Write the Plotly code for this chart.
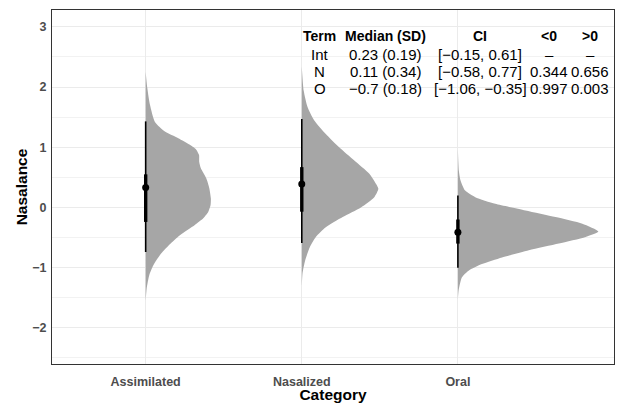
import plotly.graph_objects as go

# ---------------- data ----------------
categories = ["Assimilated", "Nasalized", "Oral"]

# density profiles (y value, relative density; Oral peak = 1)
asm_y = [2.25, 1.98, 1.70, 1.42, 1.26, 1.15, 1.04, 0.96, 0.87, 0.76, 0.65, 0.48, 0.32, 0.15, 0.04, -0.07, -0.18, -0.29, -0.46, -0.62, -0.79, -0.96, -1.12, -1.35, -1.57]
asm_d = [0.0, 0.012, 0.031, 0.066, 0.137, 0.232, 0.315, 0.360, 0.380, 0.381, 0.393, 0.432, 0.453, 0.464, 0.462, 0.446, 0.410, 0.350, 0.244, 0.168, 0.102, 0.055, 0.026, 0.007, 0.0]

nas_y = [2.35, 1.94, 1.67, 1.45, 1.22, 1.00, 0.78, 0.56, 0.39, 0.31, 0.17, 0.00, -0.16, -0.33, -0.49, -0.66, -0.88, -1.10, -1.32]
nas_d = [0.0, 0.014, 0.041, 0.088, 0.171, 0.266, 0.374, 0.481, 0.529, 0.545, 0.516, 0.421, 0.291, 0.171, 0.100, 0.057, 0.024, 0.005, 0.0]

ora_y = [0.98, 0.61, 0.45, 0.28, 0.17, 0.06, -0.05, -0.16, -0.27, -0.40, -0.49, -0.60, -0.71, -0.83, -0.94, -1.05, -1.16, -1.38, -1.54]
ora_d = [0.0, 0.007, 0.019, 0.052, 0.124, 0.266, 0.481, 0.695, 0.886, 1.0, 0.909, 0.719, 0.505, 0.314, 0.171, 0.076, 0.029, 0.005, 0.0]

# point intervals: median, 66% and 95% intervals
medians = [0.33, 0.39, -0.41]
lo66 = [-0.24, -0.07, -0.60]
hi66 = [0.55, 0.67, -0.20]
lo95 = [-0.74, -0.59, -1.00]
hi95 = [1.43, 1.47, 0.20]

# summary table
tbl_header = ["Term", "Median (SD)", "CI", "<0", ">0"]
tbl_term = ["Int", "N", "O"]
tbl_median = ["0.23 (0.19)", "0.11 (0.34)", "\u22120.7 (0.18)"]
tbl_ci = ["[\u22120.15, 0.61]", "[\u22120.58, 0.77]", "[\u22121.06, \u22120.35]"]
tbl_lt0 = ["\u2013", "0.344", "0.997"]
tbl_gt0 = ["\u2013", "0.656", "0.003"]

y_ticks = [-2, -1, 0, 1, 2, 3]

# ---------------- figure ----------------
SCALE = 0.9
FONT = "Liberation Sans, Arial, sans-serif"
fig = go.Figure()

profiles = [(asm_y, asm_d), (nas_y, nas_d), (ora_y, ora_d)]
for i, (ys, ds) in enumerate(profiles):
    pos = i + 1
    xs = [pos + SCALE * d for d in ds]
    fig.add_trace(go.Scatter(
        x=[pos] + xs + [pos], y=[ys[0]] + ys + [ys[-1]],
        mode="lines", fill="toself", fillcolor="#A6A6A6",
        line=dict(color="rgba(0,0,0,0)", width=0, shape="spline", smoothing=0.6),
        hoverinfo="skip", showlegend=False))

for i in range(3):
    pos = i + 1
    fig.add_trace(go.Scatter(x=[pos, pos], y=[lo95[i], hi95[i]], mode="lines",
                             line=dict(color="black", width=1.6), showlegend=False))
    fig.add_trace(go.Scatter(x=[pos, pos], y=[lo66[i], hi66[i]], mode="lines",
                             line=dict(color="black", width=3.4), showlegend=False))
    fig.add_trace(go.Scatter(x=[pos], y=[medians[i]], mode="markers",
                             marker=dict(color="black", size=7), showlegend=False))

# table annotations (pixel -> paper conversion)
L, R, T, B = 52, 614, 10, 364
def px(x):
    return (x - L) / (R - L)
def py(y):
    return (B - y) / (B - T)

col_x = [319.5, 385.7, 480.0, 549.0, 590.0]
row_y = [36.0, 54.3, 71.7, 88.7]
for j, h in enumerate(tbl_header):
    fig.add_annotation(x=px(col_x[j]), y=py(row_y[0]), xref="paper", yref="paper",
                       text="<b>%s</b>" % h, showarrow=False, xanchor="center", yanchor="middle",
                       font=dict(family=FONT, size=14, color="black"))
cols = [tbl_term, tbl_median, tbl_ci, tbl_lt0, tbl_gt0]
for j, col in enumerate(cols):
    for r, t in enumerate(col):
        fig.add_annotation(x=px(col_x[j]), y=py(row_y[r + 1]), xref="paper", yref="paper",
                           text=t, showarrow=False, xanchor="center", yanchor="middle",
                           font=dict(family=FONT, size=15, color="black"))

fig.update_layout(
    width=622, height=403,
    margin=dict(l=L, r=622 - R, t=T, b=403 - B),
    plot_bgcolor="white", paper_bgcolor="white",
    font=dict(family=FONT),
    xaxis=dict(range=[0.4, 4.0], tickvals=[1, 2, 3], ticktext=categories,
               showgrid=True, gridcolor="#EBEBEB", gridwidth=1, zeroline=False,
               showline=True, mirror=True, linecolor="#333333", linewidth=1,
               ticks="", ticklabelstandoff=6, automargin=False,
               tickfont=dict(family=FONT, size=12.5, color="#4D4D4D", weight="bold"),
               title=dict(text="<b>Category</b>", font=dict(family=FONT, size=15.5, color="black"),
                          standoff=2)),
    yaxis=dict(range=[-2.6, 3.28], tickvals=y_ticks,
               ticktext=[("\u2212%d" % -v) if v < 0 else str(v) for v in y_ticks],
               showgrid=True, gridcolor="#EBEBEB", gridwidth=1, zeroline=False,
               minor=dict(dtick=0.5, showgrid=True, gridcolor="#F2F2F2", gridwidth=1),
               showline=True, mirror=True, linecolor="#333333", linewidth=1,
               ticks="", ticklabelstandoff=2, automargin=False,
               tickfont=dict(family=FONT, size=12.5, color="#4D4D4D", weight="bold"),
               title=dict(text="<b>Nasalance</b>", font=dict(family=FONT, size=15.5, color="black"),
                          standoff=0)),
)

fig.write_html("out.html", config={"displayModeBar": False},
               post_script="document.body.style.margin='0px';")
